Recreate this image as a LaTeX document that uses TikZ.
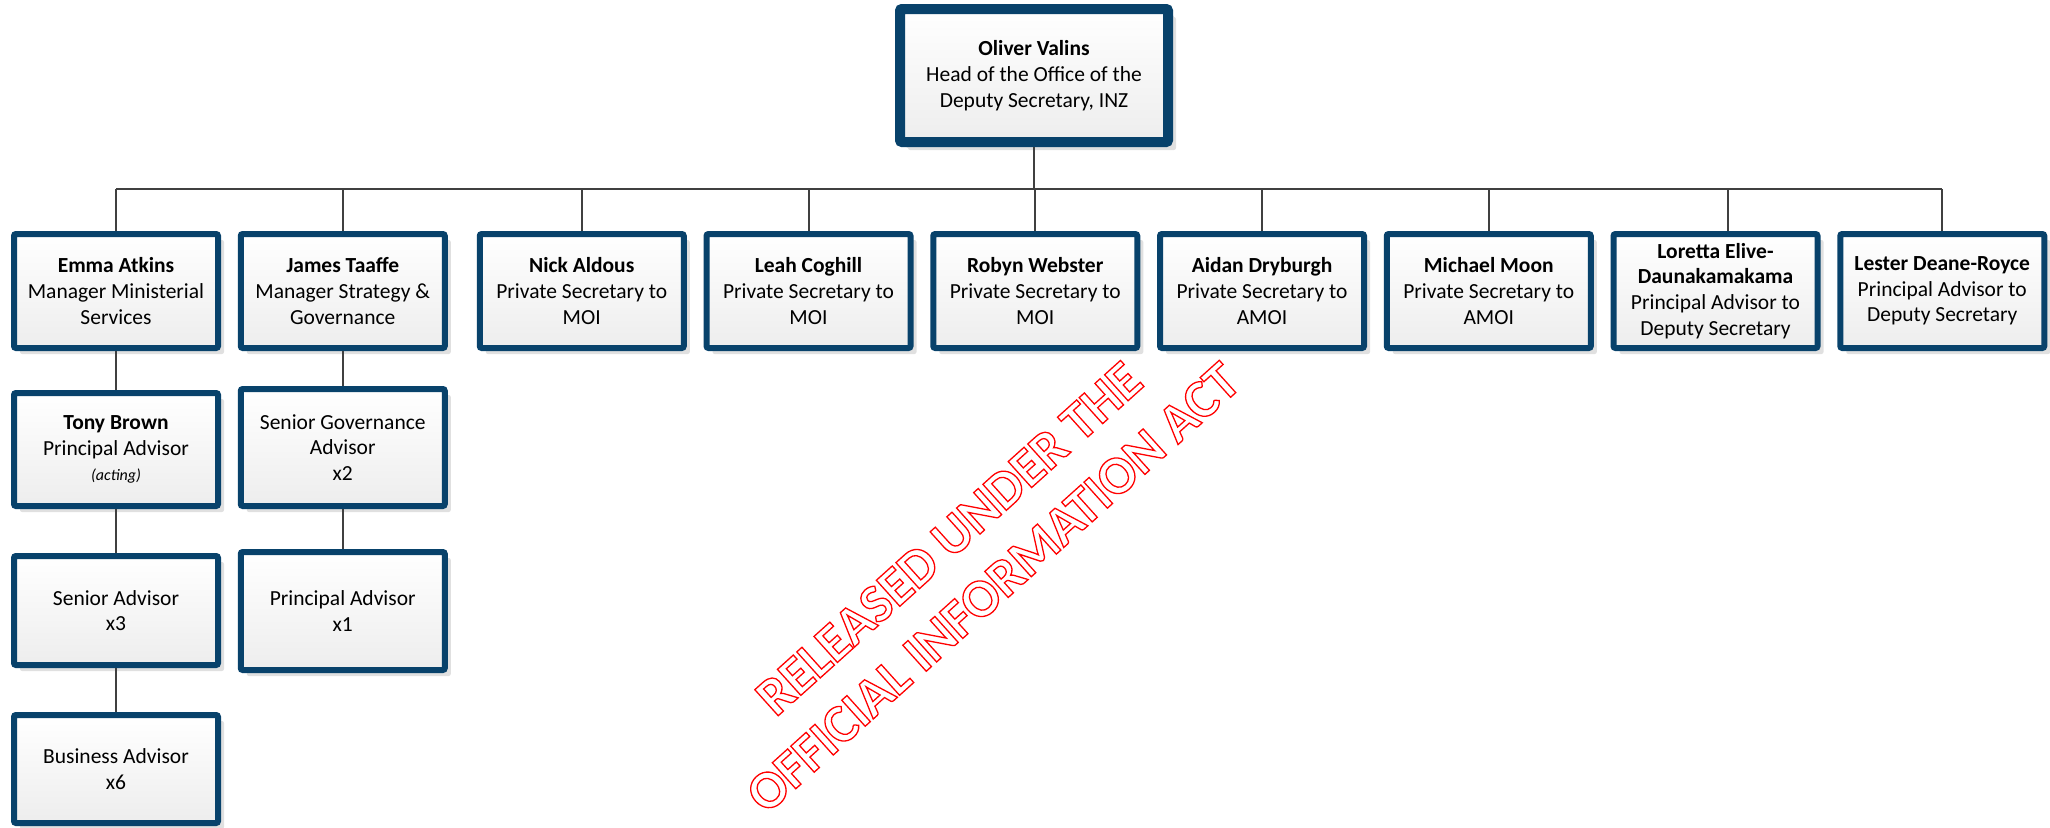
\documentclass[tikz,border=0pt]{standalone}
\usepackage{fontspec}
\setmainfont{Carlito}
\usetikzlibrary{positioning,chains,shadows}
\definecolor{oianavy}{RGB}{8,66,107}
\definecolor{oialine}{RGB}{64,64,64}
\newcommand{\hollowtext}[1]{{\color{red}\special{pdf:literal direct 1 Tr 1.3 w}#1\special{pdf:literal direct 0 Tr}}}

\begin{document}
\begin{tikzpicture}[x=1pt,y=-1pt,
  unit/.style={rectangle, draw=oianavy, line width=6pt, rounded corners=2pt, top color=white, bottom color=black!7, drop shadow={shadow xshift=6pt, shadow yshift=-6pt, fill=black!12, opacity=1}, minimum width=204pt, minimum height=114pt, align=center, inner sep=2pt, font=\fontsize{21.5}{25.7}\selectfont},
  head/.style={unit, line width=10pt, minimum width=268pt, minimum height=133pt, drop shadow={shadow xshift=8pt, shadow yshift=-8pt, fill=black!12, opacity=1}},
  link/.style={draw=oialine, line width=2pt},
  start chain=staff going right, node distance=16.75pt]
  \useasboundingbox (0,0) rectangle (2050,827);
  \node[head] (oliver) at (1034,75.5) {\textbf{Oliver Valins}\\Head of the Office of the\\Deputy Secretary, INZ};
  \node[unit,on chain] (emma) at (116,291) {\textbf{Emma Atkins}\\Manager Ministerial\\Services};
  \node[unit,on chain] (james) {\textbf{James Taaffe}\\Manager Strategy \&\\Governance};
  \node[unit,on chain,xshift=12.25pt] (nick) {\textbf{Nick Aldous}\\Private Secretary to\\MOI};
  \node[unit,on chain] (leah) {\textbf{Leah Coghill}\\Private Secretary to\\MOI};
  \node[unit,on chain] (robyn) {\textbf{Robyn Webster}\\Private Secretary to\\MOI};
  \node[unit,on chain] (aidan) {\textbf{Aidan Dryburgh}\\Private Secretary to\\AMOI};
  \node[unit,on chain] (michael) {\textbf{Michael Moon}\\Private Secretary to\\AMOI};
  \node[unit,on chain] (loretta) {\textbf{Loretta Elive-}\\\textbf{Daunakamakama}\\Principal Advisor to\\Deputy Secretary};
  \node[unit,on chain] (lester) {\textbf{Lester Deane-Royce}\\Principal Advisor to\\Deputy Secretary};
  \node[unit,below=39pt of emma,minimum height=113pt] (tony) {\textbf{Tony Brown}\\Principal Advisor\\{\fontsize{16}{20}\selectfont\itshape (acting)}};
  \node[unit,below=44pt of tony,minimum height=109pt] (senior) {Senior Advisor\\x3};
  \node[unit,below=44pt of senior,minimum height=108pt] (business) {Business Advisor\\x6};
  \node[unit,below=35pt of james,minimum height=117pt] (governance) {Senior Governance\\Advisor\\x2};
  \node[unit,below=40pt of governance,minimum height=118pt] (principal) {Principal Advisor\\x1};
  \coordinate (bus) at (0,189);
  \draw[link] (oliver.south) -- (oliver.south |- bus);
  \draw[link] (emma.north |- bus) -- (lester.north |- bus);
  \foreach \n in {emma,james,nick,leah,robyn,aidan,michael,lester}
    \draw[link] (\n.north) -- (\n.north |- bus);
  \draw[link] ([xshift=12pt]loretta.north) -- ([xshift=12pt]loretta.north |- bus);
  \draw[link] (emma) -- (tony);
  \draw[link] (tony) -- (senior);
  \draw[link] (senior) -- (business);
  \draw[link] (james) -- (governance);
  \draw[link] (governance) -- (principal);
  \node[rotate=42, align=center, font=\fontsize{54}{66}\selectfont\bfseries] (stamp) at (971,563) {\hollowtext{RELEASED UNDER THE}\\\hollowtext{OFFICIAL INFORMATION ACT}};
\end{tikzpicture}
\end{document}
